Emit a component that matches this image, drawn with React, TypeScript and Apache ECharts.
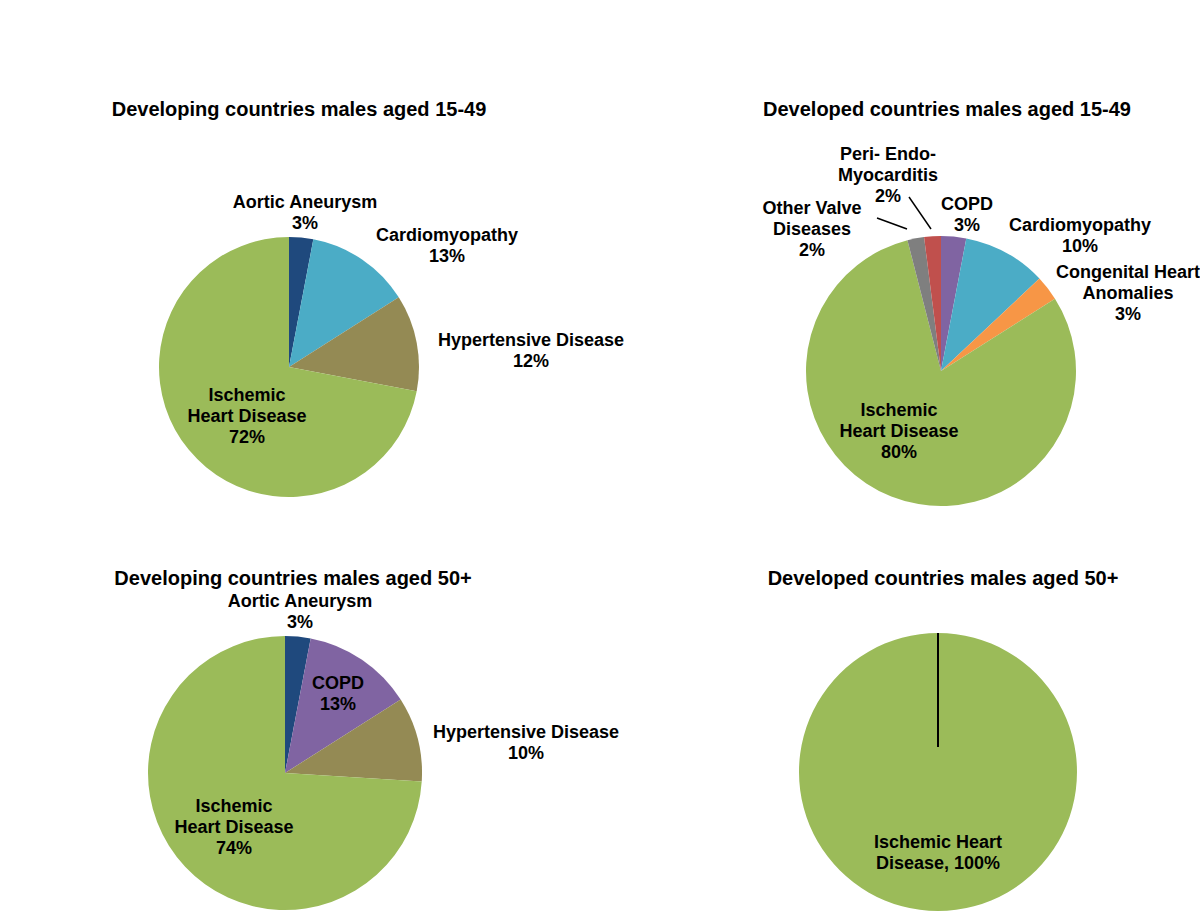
import React, { useEffect, useRef } from "react";
import * as echarts from "echarts";

// ---- Data ----
const titles = [
  "Developing countries males aged 15-49",
  "Developed countries males aged 15-49",
  "Developing countries males aged 50+",
  "Developed countries males aged 50+",
];

const devYoungNames = ["Aortic Aneurysm", "Cardiomyopathy", "Hypertensive Disease", "Ischemic Heart Disease"];
const devYoungValues = [3, 13, 12, 72];

const dvdYoungNames = [
  "COPD",
  "Cardiomyopathy",
  "Congenital Heart Anomalies",
  "Ischemic Heart Disease",
  "Other Valve Diseases",
  "Peri- Endo-Myocarditis",
];
const dvdYoungValues = [3, 10, 3, 80, 2, 2];

const devOldNames = ["Aortic Aneurysm", "COPD", "Hypertensive Disease", "Ischemic Heart Disease"];
const devOldValues = [3, 13, 10, 74];

const dvdOldNames = ["Ischemic Heart Disease"];
const dvdOldValues = [100];

// ---- Styles / layout (not data) ----
const colorMap: Record<string, string> = {
  "Aortic Aneurysm": "#1F497D",
  Cardiomyopathy: "#4BACC6",
  "Hypertensive Disease": "#948A54",
  "Ischemic Heart Disease": "#9BBB59",
  COPD: "#8064A2",
  "Congenital Heart Anomalies": "#F79646",
  "Other Valve Diseases": "#7F7F7F",
  "Peri- Endo-Myocarditis": "#C0504D",
};

const labelText: Record<string, string[]> = {
  "Aortic Aneurysm": ["Aortic Aneurysm"],
  Cardiomyopathy: ["Cardiomyopathy"],
  "Hypertensive Disease": ["Hypertensive Disease"],
  "Ischemic Heart Disease": ["Ischemic", "Heart Disease"],
  COPD: ["COPD"],
  "Congenital Heart Anomalies": ["Congenital Heart", "Anomalies"],
  "Other Valve Diseases": ["Other Valve", "Diseases"],
  "Peri- Endo-Myocarditis": ["Peri- Endo-", "Myocarditis"],
};

const pieLayout = [
  { center: [289, 367], r: 130, titleX: 294, titleY: 106 },
  { center: [941, 371], r: 135, titleX: 942, titleY: 106 },
  { center: [285, 773], r: 137, titleX: 288, titleY: 575 },
  { center: [938, 772], r: 139, titleX: 938, titleY: 575 },
];

const labelPos: Record<string, [number, number]>[] = [
  {
    "Aortic Aneurysm": [305, 212],
    Cardiomyopathy: [447, 245],
    "Hypertensive Disease": [531, 350],
    "Ischemic Heart Disease": [247, 416],
  },
  {
    COPD: [967, 214],
    Cardiomyopathy: [1080, 235],
    "Congenital Heart Anomalies": [1128, 293],
    "Ischemic Heart Disease": [899, 431],
    "Other Valve Diseases": [812, 229],
    "Peri- Endo-Myocarditis": [888, 175],
  },
  {
    "Aortic Aneurysm": [300, 611],
    COPD: [338, 693],
    "Hypertensive Disease": [526, 742],
    "Ischemic Heart Disease": [234, 827],
  },
  {
    "Ischemic Heart Disease": [938, 852],
  },
];

const FONT = "'Liberation Sans', Arial, sans-serif";

function buildSeries(idx: number, names: string[], values: number[]) {
  const lay = pieLayout[idx];
  return {
    type: "pie",
    center: lay.center,
    radius: lay.r,
    startAngle: 90,
    clockwise: true,
    avoidLabelOverlap: false,
    silent: true,
    itemStyle: { borderWidth: 0 },
    label: {
      show: true,
      position: "outside",
      color: "#000",
      fontFamily: FONT,
      fontWeight: "bold",
      fontSize: 18,
      lineHeight: 21,
      align: "center",
      formatter: (p: any) => {
        if (idx === 3) return "Ischemic Heart\nDisease, " + p.value + "%";
        return [...labelText[p.name], p.value + "%"].join("\n");
      },
    },
    labelLine: { show: false },
    labelLayout: (p: any) => {
      const name = names[p.dataIndex];
      const pos = labelPos[idx][name];
      return { x: pos[0], y: pos[1], align: "center", verticalAlign: "middle" };
    },
    data: names.map((n, i) => ({
      name: n,
      value: values[i],
      itemStyle: { color: colorMap[n] },
    })),
  };
}

export default function App() {
  const ref = useRef<HTMLDivElement>(null);
  useEffect(() => {
    if (!ref.current) return;
    const chart = echarts.init(ref.current, undefined, { renderer: "svg" });
    const option: any = {
      animation: false,
      backgroundColor: "#ffffff",
      title: titles.map((t, i) => ({
        text: t,
        left: pieLayout[i].titleX,
        top: pieLayout[i].titleY - 12,
        textAlign: "center",
        textStyle: { fontFamily: FONT, fontWeight: "bold", fontSize: 20, color: "#000" },
      })),
      series: [
        buildSeries(0, devYoungNames, devYoungValues),
        buildSeries(1, dvdYoungNames, dvdYoungValues),
        buildSeries(2, devOldNames, devOldValues),
        buildSeries(3, dvdOldNames, dvdOldValues),
      ],
      graphic: [
        { type: "line", shape: { x1: 877, y1: 218, x2: 907, y2: 229 }, style: { stroke: "#000", lineWidth: 1.5 }, z: 10 },
        { type: "line", shape: { x1: 909, y1: 197, x2: 931, y2: 229 }, style: { stroke: "#000", lineWidth: 1.5 }, z: 10 },
        { type: "line", shape: { x1: 938, y1: 633, x2: 938, y2: 747 }, style: { stroke: "#000", lineWidth: 2 }, z: 10 },
      ],
    };
    chart.setOption(option);
    return () => chart.dispose();
  }, []);
  return (
    <div
      ref={ref}
      style={{ position: "fixed", left: 0, top: 0, width: 1200, height: 912, background: "#fff" }}
    />
  );
}
